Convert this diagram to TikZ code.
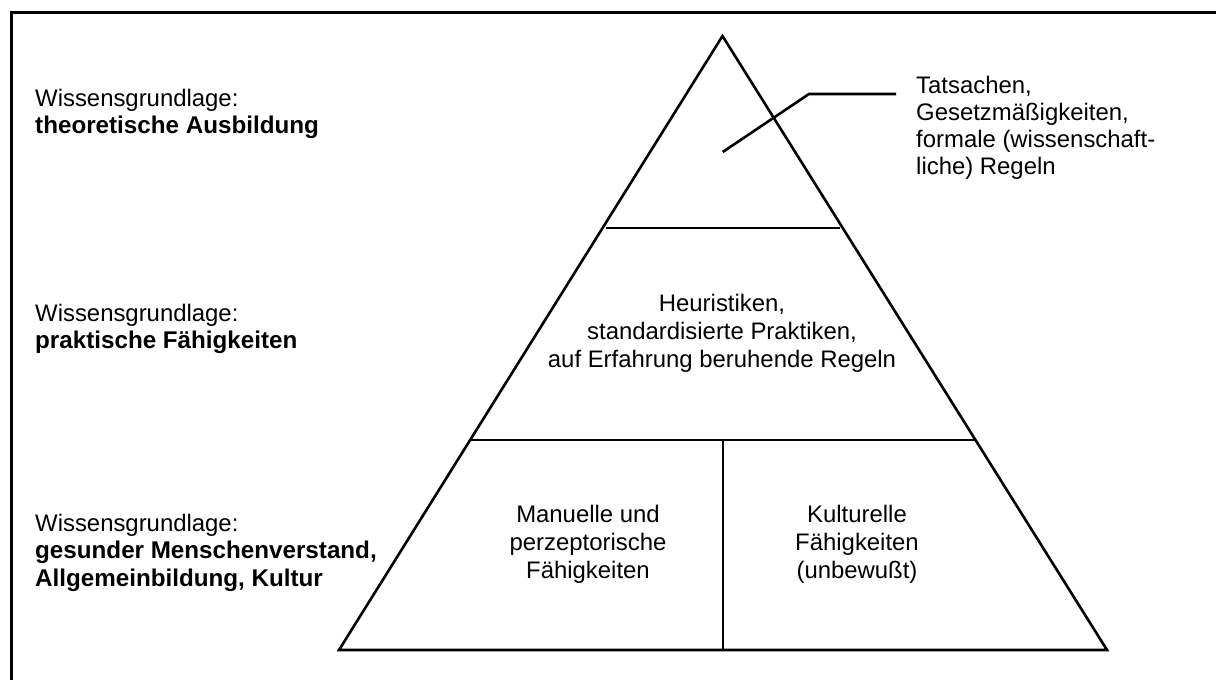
\documentclass[tikz,border=0pt]{standalone}
\usepackage{fontspec}
\setmainfont{Liberation Sans}
\usetikzlibrary{calc}
\begin{document}
\begin{tikzpicture}[x=1pt,y=-1pt,
  line join=miter,
  frameline/.style={line width=3pt},
  pyrline/.style={line width=2.6pt},
  txt/.style={inner sep=0pt, font=\fontsize{23.9}{27}\selectfont},
  lefttxt/.style={txt, anchor=base west},
  midtxt/.style={txt, anchor=base},
  strong/.style={font=\fontsize{24.2}{27}\selectfont\bfseries}]
\useasboundingbox (0,0) rectangle (1216,680);

% outer frame (top and left edges)
\draw[frameline] (1216,12) -- (11,12) -- (11,680);

% pyramid corners
\coordinate (apex) at (722.5,36);
\coordinate (bl) at (339,650);
\coordinate (br) at (1107,650);
\draw[pyrline] (apex) -- (bl) -- (br) -- cycle;

% level dividers
\coordinate (d1l) at (606,228);
\coordinate (d1r) at (840,228);
\coordinate (d2l) at ($(apex)!0.658!(bl)$);
\coordinate (d2r) at ($(apex)!0.658!(br)$);
\draw[pyrline] (d1l) -- (d1r);
\draw[pyrline] (d2l) -- (d2r);
\coordinate (vtop) at (723,440);
\coordinate (vbot) at (723,650);
\draw[pyrline] (vtop) -- (vbot);

% leader to the top-level label
\coordinate (ltip) at (722.7,152);
\coordinate (lknee) at (809,94);
\coordinate (lend) at (896,94);
\draw[pyrline] (ltip) -- (lknee) -- (lend);

% labels on the left
\node[lefttxt] (w1) at (35,106) {Wissensgrundlage:};
\node[lefttxt, strong] (w1b) at (35,133) {theoretische Ausbildung};
\node[lefttxt] (w2) at (35,321) {Wissensgrundlage:};
\node[lefttxt, strong] (w2b) at (35,348) {praktische Fähigkeiten};
\node[lefttxt] (w3) at (35,531) {Wissensgrundlage:};
\node[lefttxt, strong] (w3b) at (35,558) {gesunder Menschenverstand,};
\node[lefttxt, strong] (w3c) at (35,586) {Allgemeinbildung, Kultur};

% top level
\node[lefttxt] (t1) at (916,93) {Tatsachen,};
\node[lefttxt] (t2) at (916,120.5) {Gesetzmäßigkeiten,};
\node[lefttxt] (t3) at (916,147.5) {formale (wissenschaft-};
\node[lefttxt] (t4) at (916,174.5) {liche) Regeln};

% middle level
\node[midtxt] (m1) at (722,311) {Heuristiken,};
\node[midtxt] (m2) at (722,339) {standardisierte Praktiken,};
\node[midtxt] (m3) at (722,367) {auf Erfahrung beruhende Regeln};

% bottom level, left cell
\node[midtxt] (b1) at (588,522) {Manuelle und};
\node[midtxt] (b2) at (588,550) {perzeptorische};
\node[midtxt] (b3) at (588,578) {Fähigkeiten};

% bottom level, right cell
\node[midtxt] (c1) at (857,522) {Kulturelle};
\node[midtxt] (c2) at (857,550) {Fähigkeiten};
\node[midtxt] (c3) at (857,578) {(unbewußt)};
\end{tikzpicture}
\end{document}
